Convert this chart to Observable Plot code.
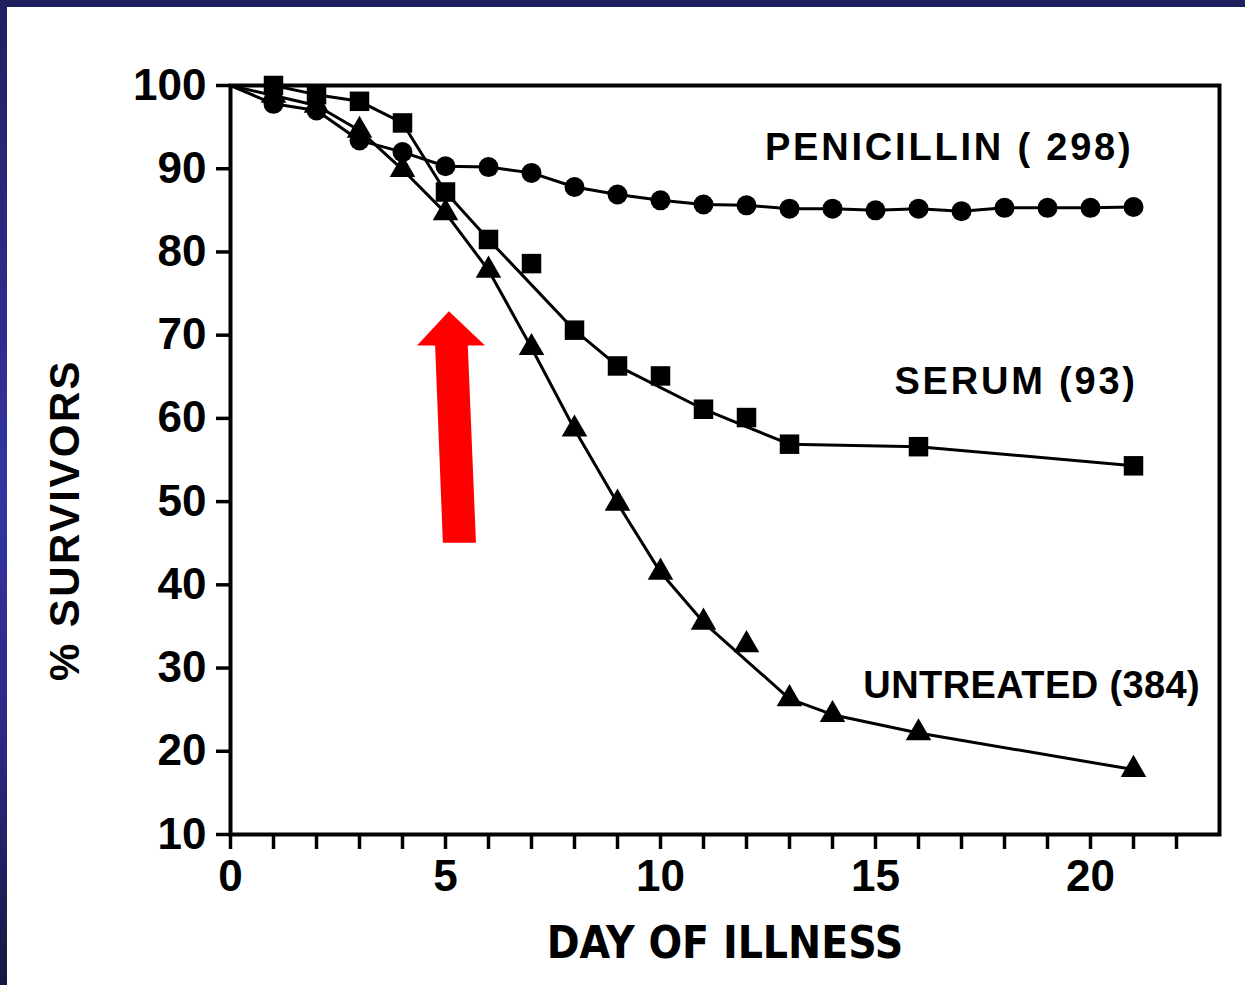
<!DOCTYPE html>
<html>
<head>
<meta charset="utf-8">
<script src="https://cdn.jsdelivr.net/npm/d3@7"></script>
<script src="https://cdn.jsdelivr.net/npm/@observablehq/plot@0.6"></script>
<style>
  html, body { margin: 0; padding: 0; width: 1245px; height: 985px; overflow: hidden; }
  body {
    position: relative;
    background: linear-gradient(to bottom, #20205f 0%, #2c2c8a 30%, #3434a2 50%, #2a2a84 75%, #17173f 100%);
  }
  #panel { position: absolute; left: 7px; top: 7px; right: 0; bottom: 0; background: #ffffff; }
  #chart { position: absolute; left: 0; top: 0; }
</style>
</head>
<body>
<div id="panel"></div>
<div id="chart"></div>
<script>
// ---- Data ----
const penicillinDays = [0, 1, 2, 3, 4, 5, 6, 7, 8, 9, 10, 11, 12, 13, 14, 15, 16, 17, 18, 19, 20, 21];
const penicillinSurv = [100, 97.8, 97.0, 93.4, 92.0, 90.3, 90.2, 89.5, 87.8, 86.9, 86.2, 85.7, 85.6, 85.2, 85.2, 85.0, 85.2, 84.9, 85.3, 85.3, 85.3, 85.4];
const penicillinOnCurve = penicillinDays.map(() => true);

const serumDays = [0, 1, 2, 3, 4, 5, 6, 7, 8, 9, 10, 11, 12, 13, 16, 21];
const serumSurv = [100, 100, 98.9, 98.1, 95.5, 87.2, 81.5, 78.6, 70.6, 66.3, 65.1, 61.1, 60.1, 56.9, 56.6, 54.3];
const serumOnCurve = [true, true, true, true, true, true, true, false, true, true, false, true, false, true, true, true];

const untreatedDays = [0, 1, 2, 3, 4, 5, 6, 7, 8, 9, 10, 11, 12, 13, 14, 16, 21];
const untreatedSurv = [100, 98.8, 97.6, 94.6, 89.9, 84.7, 77.8, 68.5, 58.7, 49.8, 41.5, 35.5, 32.8, 26.3, 24.4, 22.2, 17.8];
const untreatedOnCurve = [true, true, true, true, true, true, true, true, true, true, true, true, false, true, true, true, true];

const seriesNames = ["PENICILLIN", "SERUM", "UNTREATED"];
const seriesLabels = ["PENICILLIN ( 298)", "SERUM (93)", "UNTREATED (384)"];
const seriesLabelDay = [21.0, 21.1, 22.55];
const seriesLabelSurv = [92.5, 64.4, 27.9];

const yTicks = [10, 20, 30, 40, 50, 60, 70, 80, 90, 100];
const xTicks = d3.range(0, 23);
const xTickLabels = [0, 5, 10, 15, 20];

const xTitle = "DAY OF ILLNESS";
const yTitle = "% SURVIVORS";

// red annotation arrow (shaft bottom, shaft top, head base, apex), in data units
const arrowSurv  = [45.0, 68.7, 68.7, 72.8];
const arrowLeft  = [4.95, 4.77, 4.35, 5.09];
const arrowRight = [5.72, 5.53, 5.93, 5.09];

// ---- Tables built from the arrays ----
function rows(name, days, surv, onCurve) {
  return days.map((d, i) => ({series: name, day: d, surv: surv[i], onCurve: onCurve[i]}));
}
const pen = rows(seriesNames[0], penicillinDays, penicillinSurv, penicillinOnCurve);
const ser = rows(seriesNames[1], serumDays, serumSurv, serumOnCurve);
const unt = rows(seriesNames[2], untreatedDays, untreatedSurv, untreatedOnCurve);
const all = [...pen, ...ser, ...unt];
const labels = seriesLabels.map((t, i) => ({text: t, day: seriesLabelDay[i], surv: seriesLabelSurv[i]}));
const arrow = arrowSurv.map((s, i) => ({surv: s, x1: arrowLeft[i], x2: arrowRight[i]}));

const FONT = "'Liberation Sans', Arial, Helvetica, sans-serif";

const chart = Plot.plot({
  width: 1245,
  height: 985,
  marginLeft: 230,
  marginRight: 26,
  marginTop: 85,
  marginBottom: 151,
  x: {domain: [0, 23]},
  y: {domain: [10, 100]},
  style: {background: "transparent", fontFamily: FONT, color: "#000"},
  marks: [
    Plot.frame({stroke: "#000", strokeWidth: 4}),
    Plot.axisY({ticks: yTicks, tickSize: 14, tickPadding: 10, fontSize: 44, fontWeight: "bold", strokeWidth: 3.5, label: null}),
    Plot.axisX({ticks: xTicks, tickSize: 15, tickPadding: 10, fontSize: 44, fontWeight: "bold", strokeWidth: 3.5, label: null,
      tickFormat: d => xTickLabels.includes(d) ? String(d) : ""}),
    Plot.line(all.filter(d => d.onCurve), {x: "day", y: "surv", z: "series", stroke: "#000", strokeWidth: 3}),
    Plot.dot(pen.filter(d => d.day > 0), {x: "day", y: "surv", symbol: "circle", r: 10, fill: "#000", stroke: "none"}),
    Plot.dot(ser.filter(d => d.day > 0), {x: "day", y: "surv", symbol: "square", r: 11, fill: "#000", stroke: "none"}),
    Plot.dot(unt.filter(d => d.day > 0), {x: "day", y: "surv", symbol: "triangle", r: 9.5, fill: "#000", stroke: "none"}),
    Plot.text(labels, {x: "day", y: "surv", text: "text", textAnchor: "end", fontSize: 38, fontWeight: "bold", fill: "#000"}),
    Plot.text([xTitle], {frameAnchor: "bottom", text: d => d, dy: 109, lineAnchor: "middle", textAnchor: "middle", fontSize: 44, fontWeight: "bold", fill: "#000", fontFamily: "'Liberation Sans Narrow', 'DejaVu Sans Condensed', sans-serif"}),
    Plot.text([yTitle], {frameAnchor: "left", text: d => d, dx: -165, dy: 60, rotate: -90, textAnchor: "middle", lineAnchor: "middle", fontSize: 42, fontWeight: "bold", fill: "#000"}),
    Plot.areaX(arrow, {y: "surv", x1: "x1", x2: "x2", fill: "#ff0000", stroke: "none", curve: "linear"})
  ]
});

document.getElementById("chart").appendChild(chart);

// letter spacing tweaks for the hand-lettered look
const spacing = new Map([[seriesLabels[0], 2.8], [seriesLabels[1], 2.8], [seriesLabels[2], 0.4], [yTitle, 2.4]]);
d3.select(chart).selectAll("text").each(function() {
  const t = this.textContent;
  if (spacing.has(t)) this.setAttribute("letter-spacing", spacing.get(t));
});
</script>
</body>
</html>
